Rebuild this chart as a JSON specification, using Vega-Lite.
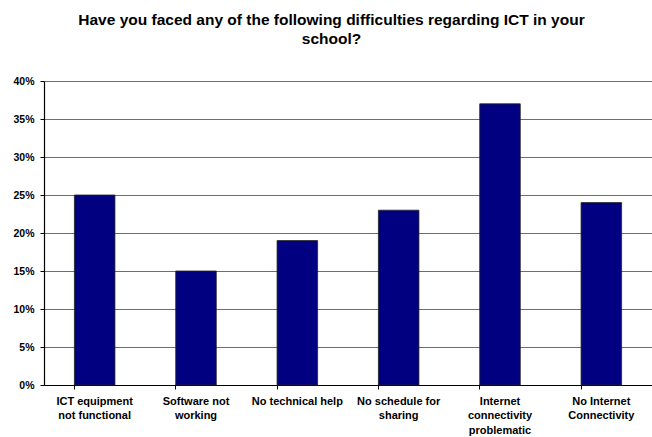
{
  "$schema": "https://vega.github.io/schema/vega-lite/v6.json",
  "width": 608,
  "height": 304,
  "autosize": {"type": "none"},
  "padding": {"left": 44, "top": 81, "right": 0, "bottom": 52},
  "background": "white",
  "title": {
    "text": ["Have you faced any of the following difficulties regarding ICT in your", "school?"],
    "font": "Liberation Sans",
    "fontSize": 15.5,
    "fontWeight": "bold",
    "color": "black",
    "lineHeight": 19,
    "anchor": "middle",
    "frame": "bounds",
    "offset": 29,
    "dx": -1
  },
  "config": {
    "view": {"stroke": null},
    "axis": {"labelFont": "Liberation Sans", "labelFontWeight": "bold", "labelFontSize": 11, "labelColor": "black"}
  },
  "data": {
    "values": [
      {"cat": "ICT equipment|not functional", "v": 0.25},
      {"cat": "Software not|working", "v": 0.15},
      {"cat": "No technical help", "v": 0.19},
      {"cat": "No schedule for|sharing", "v": 0.23},
      {"cat": "Internet|connectivity|problematic", "v": 0.37},
      {"cat": "No Internet|Connectivity", "v": 0.24}
    ]
  },
  "mark": {"type": "bar", "color": "#000080", "stroke": "#222222", "strokeWidth": 0.8},
  "encoding": {
    "x": {
      "field": "cat",
      "type": "nominal",
      "sort": null,
      "scale": {"paddingInner": 0.6, "paddingOuter": 0.3},
      "axis": {
        "title": null,
        "labelAngle": 0,
        "labelExpr": "split(datum.label, '|')",
        "labelLineHeight": 14.8,
        "labelPadding": 6,
        "bandPosition": 0,
        "ticks": true,
        "tickColor": "black",
        "tickSize": 4,
        "domainColor": "black",
        "domainWidth": 1,
        "grid": false,
        "labelAlign": "center",
        "labelBaseline": "top"
      }
    },
    "y": {
      "field": "v",
      "type": "quantitative",
      "scale": {"domain": [0, 0.4]},
      "axis": {
        "title": null,
        "format": ".0%",
        "values": [0, 0.05, 0.1, 0.15, 0.2, 0.25, 0.3, 0.35, 0.4],
        "grid": true,
        "gridColor": "#6e6e6e",
        "gridWidth": 1,
        "tickColor": "black",
        "tickSize": 4,
        "domainColor": "black",
        "domainWidth": 1.2,
        "labelPadding": 6,
        "labelFontSize": 10.5
      }
    }
  }
}
